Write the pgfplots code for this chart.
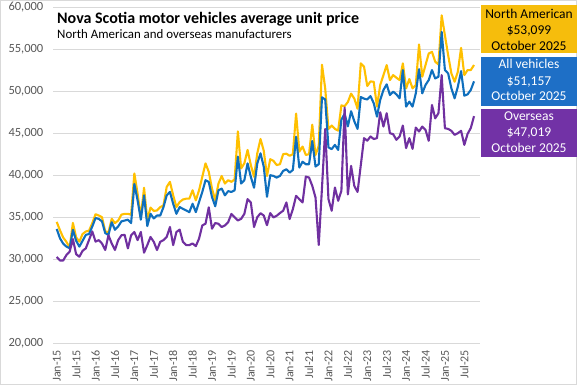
\documentclass[border=0pt]{standalone}
\usepackage{fontspec}
\setmainfont{Carlito}
\usepackage{pgfplots}
\usepackage{pgfplotstable}
\pgfplotsset{compat=1.18}
\definecolor{goldl}{HTML}{FFC000}
\definecolor{bluel}{HTML}{0F6FBD}
\definecolor{purpl}{HTML}{7030A0}
\definecolor{goldbox}{HTML}{F6BD0C}
\definecolor{bluebox}{HTML}{1E6FC6}
\definecolor{purpbox}{HTML}{7232A6}
\definecolor{lblgray}{HTML}{595959}
\definecolor{gridgray}{HTML}{D9D9D9}
\pgfplotstableread{
x na all ov
0 34440 33600 30270
1 33450 32500 29850
2 32580 31850 29850
3 32060 31500 30500
4 31400 31300 30900
5 34320 33500 32400
6 32600 32200 30600
7 32100 31500 30300
8 33000 32200 31000
9 33300 32900 31300
10 33400 33000 32300
11 34300 33900 33300
12 35350 34900 32100
13 35200 34800 32270
14 35000 34500 31870
15 33300 33100 31100
16 33200 32900 32850
17 34800 34400 31870
18 34300 33500 31100
19 34600 33900 32270
20 35300 34500 32850
21 35400 34600 32900
22 35400 34700 31290
23 35300 34300 32850
24 40200 38950 33240
25 37800 37000 32270
26 35000 34700 33240
27 38500 37600 30780
28 34650 33950 31680
29 36150 35400 32650
30 35750 34850 32070
31 35800 35200 31100
32 36200 35200 32070
33 36400 36200 32270
34 38600 37600 32650
35 39200 38000 33830
36 37600 36600 31680
37 36200 35400 33240
38 36800 36200 33520
39 37100 36000 32070
40 37200 35800 31680
41 37200 35600 31680
42 38200 36600 31870
43 37000 35600 31560
44 38200 36800 32460
45 39800 38000 34020
46 41400 39400 34220
47 40400 39200 36170
48 38400 37400 33630
49 37000 36300 34300
50 39000 38200 34220
51 39900 38400 33830
52 39000 37600 34020
53 39400 38100 34410
54 39200 38000 35390
55 39500 38200 35000
56 45200 42200 34610
57 40800 39000 34800
58 41400 39400 35390
59 43000 41400 37150
60 41200 39800 36760
61 39800 38500 33830
62 42600 41400 35000
63 44300 42600 35470
64 42900 41000 35200
65 39900 37420 34050
66 41900 39990 35490
67 41700 39910 34970
68 41200 39710 35170
69 41300 39910 35490
70 42500 40500 35770
71 42550 40700 36750
72 42300 40300 34780
73 42500 40620 35960
74 47330 44570 37540
75 42800 40900 37150
76 43400 41600 36750
77 42400 41300 39830
78 42500 41300 39710
79 46000 44060 38730
80 42400 41020 37340
81 43500 41300 31700
82 53130 49250 38500
83 50300 49000 45500
84 45500 43300 37150
85 45900 43100 35770
86 45500 43600 38530
87 45300 43000 36950
88 48300 46600 38140
89 48200 47300 48050
90 48700 45800 37700
91 49700 47600 41100
92 49100 46400 38700
93 47900 45500 38000
94 53300 49300 41200
95 52900 49100 44400
96 50600 49000 44100
97 51150 49400 44600
98 51100 48550 44300
99 48150 46960 44400
100 50720 48940 47480
101 51900 50130 45780
102 53090 50800 47360
103 51310 49530 44990
104 51900 49930 44870
105 51590 49610 44200
106 51310 49140 44600
107 53290 52500 45900
108 50320 48150 43210
109 51430 48740 44400
110 50320 48150 43130
111 50720 49730 45660
112 55540 52610 45190
113 51710 49730 45780
114 53090 50720 45390
115 54470 51310 44080
116 54670 52500 48350
117 53490 51500 46760
118 53170 51700 47360
119 59010 57040 51900
120 56640 52500 45580
121 54270 52100 45500
122 52100 50330 45270
123 51110 49140 44790
124 52300 50520 44990
125 55140 52380 45270
126 51900 49450 43600
127 52500 49610 44900
128 52500 50130 45600
129 53099 51157 47019
}\data
\begin{document}
\begin{tikzpicture}[x=1bp,y=1bp]
\useasboundingbox (0,0) rectangle (577,385);
\fill[white] (0,0) rectangle (577,385);
\begin{axis}[
  at={(53bp,41.7bp)}, anchor=south west,
  scale only axis, width=427bp, height=336.3bp,
  xmin=-1.15, xmax=130.85, ymin=20000, ymax=60000,
  ytick={20000,25000,...,60000},
  xtick={0,6,...,126},
  xticklabels={Jan-15,Jul-15,Jan-16,Jul-16,Jan-17,Jul-17,Jan-18,Jul-18,Jan-19,Jul-19,Jan-20,Jul-20,Jan-21,Jul-21,Jan-22,Jul-22,Jan-23,Jul-23,Jan-24,Jul-24,Jan-25,Jul-25},
  axis line style={draw=none},
  major tick length=0pt,
  ymajorgrids, grid style={gridgray, line width=0.9bp},
  scaled y ticks=false,
  /pgf/number format/.cd, 1000 sep={,}, fixed, assume math mode=true,
  /pgfplots/.cd,
  yticklabel style={anchor=east, inner sep=0pt, text=lblgray, font=\fontsize{12.5bp}{14bp}\selectfont},
  yticklabel shift=9.5bp,
  xticklabel style={rotate=90, anchor=east, inner sep=0pt, text=lblgray, font=\fontsize{12bp}{14bp}\selectfont},
  xticklabel shift=6.5bp,
  clip=false,
]
\addplot[goldl, line width=2.1bp, line join=round] table[x=x,y=na]{\data};
\addplot[bluel, line width=2.1bp, line join=round] table[x=x,y=all]{\data};
\addplot[purpl, line width=2.1bp, line join=round] table[x=x,y=ov]{\data};
\end{axis}
\draw[gridgray, line width=0.9bp] (0.45,0.45) rectangle (576.55,384.55);
\node[anchor=base west, inner sep=0pt, font=\fontsize{16bp}{18bp}\selectfont\bfseries] at (57,361.7) {Nova Scotia motor vehicles average unit price};
\node[anchor=base west, inner sep=0pt, font=\fontsize{12.9bp}{14bp}\selectfont] at (57,346.7) {North American and overseas manufacturers};
% boxes
\fill[goldbox] (481,380) rectangle (577,332);
\fill[bluebox] (481,328) rectangle (577,279);
\fill[purpbox] (481,276) rectangle (577,228);
\begin{scope}[every node/.style={anchor=base, inner sep=0pt, font=\fontsize{13.5bp}{15bp}\selectfont}]
\node[black] at (529,366.7) {North American};
\node[black] at (529,350.7) {\$53,099};
\node[black] at (529,335) {October 2025};
\node[white] at (529,316.7) {All vehicles};
\node[white] at (529,300) {\$51,157};
\node[white] at (529,284.3) {October 2025};
\node[white] at (529,264.3) {Overseas};
\node[white] at (529,248.3) {\$47,019};
\node[white] at (529,232.3) {October 2025};
\end{scope}
\end{tikzpicture}
\end{document}
